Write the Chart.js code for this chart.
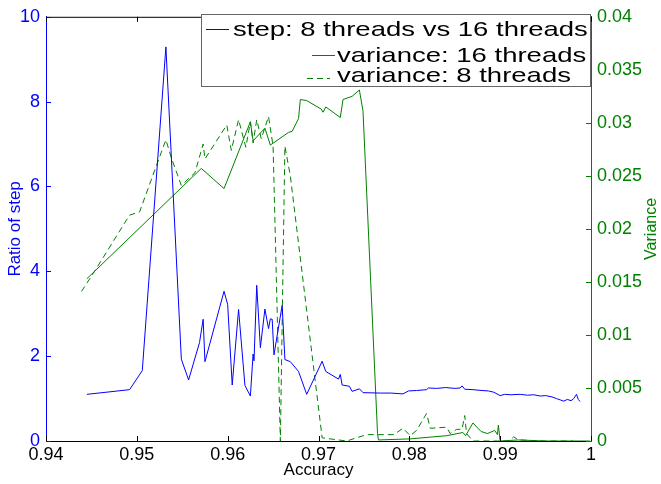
<!DOCTYPE html>
<html>
<head>
<meta charset="utf-8">
<script src="https://cdn.jsdelivr.net/npm/chart.js@4.4.0/dist/chart.umd.min.js"></script>
<style>
  html, body { margin: 0; padding: 0; background: #fff; }
</style>
</head>
<body>
<canvas id="grafico" width="661" height="484"></canvas>
<script>
// step ratio, 8 threads vs 16 threads (left axis)
const stepX = [0.9445, 0.9492, 0.9506, 0.9532, 0.9549, 0.9557, 0.9569, 0.9573, 0.9575, 0.9596,
  0.9600, 0.9605, 0.9612, 0.9619, 0.9625, 0.9628, 0.9629, 0.9632, 0.9636, 0.9641,
  0.9645, 0.9647, 0.9649, 0.9651, 0.9660, 0.9663, 0.9669, 0.9678, 0.9687, 0.9704,
  0.9708, 0.9722, 0.9724, 0.9726, 0.9734, 0.9737, 0.9745, 0.9749, 0.9768, 0.9780,
  0.9793, 0.9799, 0.9808, 0.9819, 0.9821, 0.9830, 0.9840, 0.9850, 0.9856, 0.9858,
  0.9861, 0.9870, 0.9880, 0.9887, 0.9893, 0.9900, 0.9905, 0.9912, 0.9922, 0.9930,
  0.9937, 0.9944, 0.9950, 0.9957, 0.9962, 0.9966, 0.9970, 0.9974, 0.9978, 0.9981,
  0.9984, 0.9986, 0.9988];
const stepRatio = [1.10, 1.21, 1.66, 9.29, 1.93, 1.44, 2.32, 2.87, 1.87, 3.53,
  3.22, 1.32, 3.10, 1.31, 1.06, 2.05, 1.89, 3.67, 2.20, 3.11,
  2.65, 2.88, 2.87, 2.03, 3.20, 1.92, 1.87, 1.64, 1.10, 1.88,
  1.64, 1.46, 1.57, 1.32, 1.29, 1.17, 1.23, 1.14, 1.13, 1.13,
  1.11, 1.18, 1.19, 1.21, 1.25, 1.24, 1.26, 1.24, 1.25, 1.30,
  1.22, 1.21, 1.19, 1.18, 1.15, 1.07, 1.10, 1.09, 1.10, 1.08,
  1.09, 1.06, 1.07, 1.04, 1.00, 0.97, 0.94, 0.98, 0.95, 1.00,
  1.10, 0.98, 0.93];

// variance, 16 threads (right axis)
const var16X = [0.9445, 0.9571, 0.9596, 0.9625, 0.9628, 0.9641, 0.9647, 0.9667, 0.9671, 0.9678,
  0.9680, 0.9687, 0.9703, 0.9705, 0.9708, 0.9724, 0.9727, 0.9737, 0.9745, 0.9749,
  0.9765, 0.9766, 0.9801, 0.9841, 0.9859, 0.9862, 0.9870, 0.9879, 0.9886, 0.9894,
  0.9897, 0.9898, 0.9900, 0.9920, 0.9950, 0.9999];
const var16 = [0.0153, 0.0257, 0.0238, 0.0301, 0.0283, 0.0295, 0.0279, 0.0291, 0.0292, 0.0304,
  0.0322, 0.0321, 0.0313, 0.0310, 0.0315, 0.0305, 0.0322, 0.0325, 0.0331, 0.0311,
  0.0007, 0.0001, 0.0002, 0.0005, 0.0008, 0.0005, 0.0017, 0.0009, 0.0007, 0.0010,
  0.0006, 0.0015, 0.0000, 0.0001, 0.0000, 0.0000];

// variance, 8 threads (right axis)
const var8X = [0.9439, 0.9452, 0.9492, 0.9503, 0.9520, 0.9532, 0.9538, 0.9549, 0.9564, 0.9573,
  0.9575, 0.9599, 0.9604, 0.9612, 0.9620, 0.9625, 0.9628, 0.9632, 0.9637, 0.9645,
  0.9650, 0.9658, 0.9663, 0.9669, 0.9704, 0.9731, 0.9753, 0.9783, 0.9793, 0.9801,
  0.9808, 0.9819, 0.9823, 0.9841, 0.9845, 0.9852, 0.9858, 0.9861, 0.9863, 0.9870,
  0.9910, 0.9915, 0.9920, 0.9950, 0.9980];
const var8 = [0.0141, 0.0158, 0.0213, 0.0216, 0.0256, 0.0284, 0.0267, 0.0241, 0.0253, 0.0280,
  0.0266, 0.0298, 0.0274, 0.0303, 0.0277, 0.0301, 0.0281, 0.0303, 0.0285, 0.0306,
  0.0278, 0.0000, 0.0278, 0.0250, 0.0003, 0.0000, 0.0006, 0.0006, 0.0012, 0.0005,
  0.0010, 0.0026, 0.0012, 0.0013, 0.0007, 0.0011, 0.0011, 0.0024, 0.0007, 0.0000,
  0.0000, 0.0004, 0.0001, 0.0000, 0.0000];

const xTicks = [0.94, 0.95, 0.96, 0.97, 0.98, 0.99, 1];

const azul = '#0000ff';
const verde = '#008000';
const fuente = 'Liberation Sans, Arial, Helvetica, sans-serif';

const pares = (xs, ys) => xs.map((x, i) => ({ x: x, y: ys[i] }));
const limpio = v => String(parseFloat(Number(v).toFixed(4)));

// leyenda estilo matlab + marcas hacia adentro + titulo derecho
const marcoPlugin = {
  id: 'marco',
  afterDraw(chart) {
    const { ctx, chartArea: a, scales } = chart;
    ctx.save();
    ctx.lineWidth = 1;
    // borde superior
    ctx.strokeStyle = '#000';
    ctx.beginPath();
    ctx.moveTo(a.left, a.top + 0.5);
    ctx.lineTo(a.right, a.top + 0.5);
    ctx.stroke();
    // marcas del eje x (abajo y arriba)
    scales.x.ticks.forEach(t => {
      const px = Math.round(scales.x.getPixelForValue(t.value)) + 0.5;
      ctx.beginPath();
      ctx.moveTo(px, a.bottom); ctx.lineTo(px, a.bottom - 5);
      ctx.moveTo(px, a.top); ctx.lineTo(px, a.top + 5);
      ctx.stroke();
    });
    ctx.strokeStyle = azul;
    scales.y.ticks.forEach(t => {
      const py = Math.round(scales.y.getPixelForValue(t.value)) + 0.5;
      ctx.beginPath();
      ctx.moveTo(a.left, py); ctx.lineTo(a.left + 5, py);
      ctx.stroke();
    });
    ctx.strokeStyle = verde;
    scales.y2.ticks.forEach(t => {
      const py = Math.round(scales.y2.getPixelForValue(t.value)) + 0.5;
      ctx.beginPath();
      ctx.moveTo(a.right, py); ctx.lineTo(a.right - 5, py);
      ctx.stroke();
    });

    // titulo del eje derecho, girado como en matlab
    ctx.save();
    ctx.translate(652, (a.top + a.bottom) / 2);
    ctx.rotate(-Math.PI / 2);
    ctx.fillStyle = verde;
    ctx.font = '16px ' + fuente;
    ctx.textAlign = 'center';
    ctx.textBaseline = 'middle';
    ctx.fillText('Variance', 0, 0);
    ctx.restore();

    // caja de la leyenda
    const bx = 201, by = 14, bw = a.right - 201, bh = 72;
    ctx.fillStyle = '#fff';
    ctx.fillRect(bx, by, bw, bh);
    ctx.strokeStyle = '#666';
    ctx.strokeRect(bx + 0.5, by + 0.5, bw - 1, bh);
    const filas = [
      { lx: 206, tx: 233, ly: 29, by: 36 },
      { lx: 312, tx: 337, ly: 55, by: 62 },
      { lx: 307, tx: 337, ly: 78, by: 82 }
    ];
    chart.data.datasets.forEach((ds, i) => {
      const f = filas[i];
      const op = chart.getDatasetMeta(i).dataset.options;
      ctx.strokeStyle = op.borderColor;
      ctx.setLineDash(ds.borderDash || []);
      ctx.beginPath();
      ctx.moveTo(f.lx, f.ly + 0.5);
      ctx.lineTo(f.lx + 23, f.ly + 0.5);
      ctx.stroke();
      ctx.setLineDash([]);
      ctx.save();
      ctx.translate(f.tx, f.by);
      ctx.scale(1.31, 1);
      ctx.fillStyle = '#000';
      ctx.font = '21px ' + fuente;
      ctx.textBaseline = 'alphabetic';
      ctx.fillText(ds.label, 0, 0);
      ctx.restore();
    });
    ctx.restore();
  }
};

const ctx = document.getElementById('grafico').getContext('2d');

new Chart(ctx, {
  type: 'line',
  data: {
    datasets: [
      {
        label: 'step: 8 threads vs 16 threads',
        data: pares(stepX, stepRatio),
        yAxisID: 'y',
        borderColor: azul,
        borderWidth: 1,
        pointRadius: 0,
        tension: 0
      },
      {
        label: 'variance: 16 threads',
        data: pares(var16X, var16),
        yAxisID: 'y2',
        borderColor: verde,
        borderWidth: 1,
        pointRadius: 0,
        tension: 0
      },
      {
        label: 'variance: 8 threads',
        data: pares(var8X, var8),
        yAxisID: 'y2',
        borderColor: verde,
        borderWidth: 1,
        borderDash: [6, 4],
        pointRadius: 0,
        tension: 0
      }
    ]
  },
  options: {
    responsive: false,
    animation: false,
    maintainAspectRatio: false,
    layout: { padding: { top: 13, left: 0, right: 0, bottom: 0 } },
    plugins: {
      legend: { display: false },
      tooltip: { enabled: false }
    },
    scales: {
      x: {
        type: 'linear',
        min: 0.94,
        max: 1,
        afterBuildTicks: s => { s.ticks = xTicks.map(v => ({ value: v })); },
        afterFit: s => { s.height = 43; },
        ticks: { color: '#000', font: { family: fuente, size: 18 }, padding: 3, maxRotation: 0, autoSkip: false, callback: limpio },
        grid: { display: false, drawTicks: false },
        border: { display: true, color: '#000', width: 1 },
        title: { display: true, text: 'Accuracy', color: '#000', font: { family: fuente, size: 17 }, padding: { top: 0, bottom: 3 } }
      },
      y: {
        position: 'left',
        min: 0,
        max: 10,
        afterFit: s => { s.width = 46; },
        ticks: { stepSize: 2, color: azul, font: { family: fuente, size: 18 }, padding: 6, autoSkip: false },
        grid: { display: false, drawTicks: false },
        border: { display: true, color: azul, width: 1 },
        title: { display: true, text: 'Ratio of step', color: azul, font: { family: fuente, size: 17 }, padding: { top: 5, bottom: 0 } }
      },
      y2: {
        position: 'right',
        min: 0,
        max: 0.04,
        afterFit: s => { s.width = 70; },
        ticks: { stepSize: 0.005, color: verde, font: { family: fuente, size: 18 }, padding: 6, autoSkip: false, callback: limpio },
        grid: { display: false, drawTicks: false },
        border: { display: true, color: verde, width: 1 },
        title: { display: false }
      }
    }
  },
  plugins: [marcoPlugin]
});
</script>
</body>
</html>
